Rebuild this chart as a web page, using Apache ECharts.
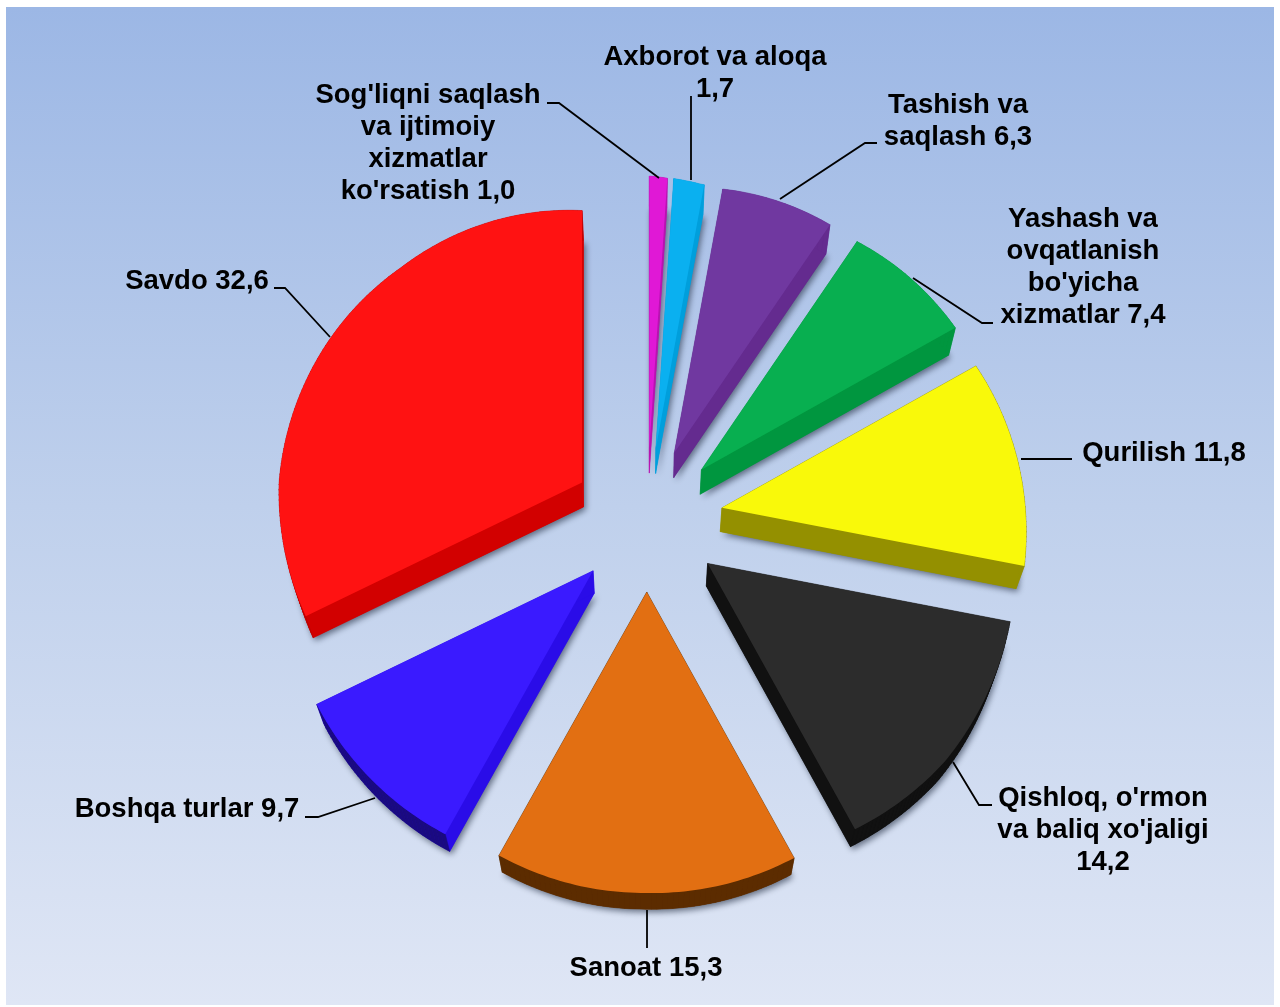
<!DOCTYPE html>
<html lang="uz">
<head>
<meta charset="utf-8">
<title>Savdo ulushi</title>
<script src="https://cdn.jsdelivr.net/npm/echarts@6/dist/echarts.min.js"></script>
<style>
html, body { margin: 0; padding: 0; background: #fff; }
#main { width: 1280px; height: 1007px; }
</style>
</head>
<body>
<div id="main"></div>
<script>
// data, clockwise from 12 o'clock
var names = [
    ["Sog'liqni saqlash", "va ijtimoiy", "xizmatlar", "ko'rsatish {v}"],
    ["Axborot va aloqa", "{v}"],
    ["Tashish va", "saqlash {v}"],
    ["Yashash va", "ovqatlanish", "bo'yicha", "xizmatlar {v}"],
    ["Qurilish {v}"],
    ["Qishloq, o'rmon", "va baliq xo'jaligi", "{v}"],
    ["Sanoat {v}"],
    ["Boshqa turlar {v}"],
    ["Savdo {v}"]
];
var values = [1.0, 1.7, 6.3, 7.4, 11.8, 14.2, 15.3, 9.7, 32.6];

// colours: top face, straight side, curved side
var topColors = ['#E018D6', '#0AB0F0', '#7038A0', '#08AF50', '#F9F90A', '#2C2C2C', '#E26F12', '#3A1AFF', '#FF1212'];
var sideColors = ['#B812B0', '#009FDC', '#642B8F', '#00963F', '#949000', '#111111', '#5C2C00', '#2A0CE8', '#D20000'];
var arcColors = ['#B812B0', '#009FDC', '#642B8F', '#00963F', '#949000', '#111111', '#5C2C00', '#1A0A80', '#C00000'];

// label layout: centre x, first line y
var labelX = [428, 715, 958, 1083, 1164, 1103, 646, 187, 197];
var labelY = [95, 57, 105, 219, 453, 798, 968, 809, 281];
var lineGap = 32.2;
var leaders = [
    [[547, 103], [559, 103], [659, 178]],
    [[691, 96], [691, 180]],
    [[780, 199], [865, 143], [877, 143]],
    [[913, 278], [982, 323], [993, 323]],
    [[1021, 459], [1072, 459]],
    [[953, 762], [979, 805], [992, 805]],
    [[647, 910], [647, 948]],
    [[375, 798], [318, 817], [305, 817]],
    [[330, 337], [285, 288], [274, 288]]
];

// the picture is a tilted 3d pie: angles get warped and radius changes with direction
var trueAngles = [0, 3.6, 9.72, 32.4, 59.04, 101.52, 152.64, 207.72, 242.64, 360];
var shownAngles = [0, 3.8, 10.4, 34.3, 60.8, 100.9, 151, 209.3, 244.2, 360];
var radiusAngles = [0, 10, 34, 61, 101, 130, 151, 180, 209, 244, 270, 300, 320, 360];
var radiusLens = [272, 268, 276, 291, 308, 309, 304, 301, 302, 307, 303, 290, 281, 272];
var centerX = 647, centerY = 520, explodeX = 76, explodeY = 72;

function lookup(xs, ys, x) {
    for (var i = 1; i < xs.length; i++) {
        if (x <= xs[i]) {
            var t = (x - xs[i - 1]) / (xs[i] - xs[i - 1]);
            return ys[i - 1] + (ys[i] - ys[i - 1]) * t;
        }
    }
    return ys[ys.length - 1];
}
// bottom face of a point on the top face, goes towards a vanishing point
function down(p) {
    return [p[0] + (647 - p[0]) * 0.022, p[1] + 30 - (p[1] - 200) * 0.02];
}

var total = values.reduce(function (a, b) { return a + b; }, 0);
var cum = 0;
var seriesData = values.map(function (v) {
    var row = [v, cum];
    cum += v;
    return row;
});

function renderSlice(params, api) {
    var i = params.dataIndex;
    var start = api.value(1) / total * 360;
    var end = (api.value(1) + api.value(0)) / total * 360;
    var mid = (start + end) / 2 * Math.PI / 180;
    var ax = centerX + Math.sin(mid) * explodeX;
    var ay = centerY - Math.cos(mid) * explodeY;
    var apex = [ax, ay];
    var arc = [];
    var steps = Math.max(2, Math.ceil(end - start));
    for (var k = 0; k <= steps; k++) {
        var deg = lookup(trueAngles, shownAngles, start + (end - start) * k / steps);
        var rad = deg * Math.PI / 180;
        var r = lookup(radiusAngles, radiusLens, deg);
        arc.push([ax + Math.sin(rad) * r, ay - Math.cos(rad) * r]);
    }
    var top = [apex].concat(arc);
    var bottom = top.map(down);
    var children = [];

    children.push({
        type: 'polygon',
        shape: { points: bottom },
        style: { fill: sideColors[i], shadowBlur: 6, shadowColor: 'rgba(40,50,70,0.65)', shadowOffsetX: 2, shadowOffsetY: 3 }
    });
    function quad(a, b, color) {
        children.push({
            type: 'polygon',
            shape: { points: [a, b, down(b), down(a)] },
            style: { fill: color, stroke: color, lineWidth: 0.5 }
        });
    }
    quad(apex, arc[0], sideColors[i]);
    quad(apex, arc[arc.length - 1], sideColors[i]);
    for (var q = 0; q < arc.length - 1; q++) {
        quad(arc[q], arc[q + 1], arcColors[i]);
    }
    children.push({
        type: 'polygon',
        shape: { points: top },
        style: { fill: topColors[i] }
    });

    // leader line and label
    children.push({
        type: 'polyline',
        shape: { points: leaders[i] },
        style: { fill: 'none', stroke: '#000', lineWidth: 1.8 }
    });
    var valueText = api.value(0).toFixed(1).replace('.', ',');
    names[i].forEach(function (line, n) {
        children.push({
            type: 'text',
            style: {
                text: line.replace('{v}', valueText),
                x: labelX[i],
                y: labelY[i] + n * lineGap,
                fill: '#000',
                font: 'bold 27.5px "Liberation Sans", Arial, sans-serif',
                align: 'center',
                verticalAlign: 'middle'
            }
        });
    });
    return { type: 'group', children: children };
}

var myChart = echarts.init(document.getElementById('main'), null, { renderer: 'canvas' });
myChart.setOption({
    animation: false,
    backgroundColor: '#fff',
    graphic: [{
        type: 'rect',
        silent: true,
        shape: { x: 6, y: 7, width: 1268, height: 998 },
        style: {
            fill: new echarts.graphic.LinearGradient(0, 0, 0, 1, [
                { offset: 0, color: '#9CB7E5' },
                { offset: 0.5, color: '#BFD0EC' },
                { offset: 1, color: '#DFE6F5' }
            ])
        }
    }],
    series: [{
        type: 'custom',
        coordinateSystem: 'none',
        silent: true,
        renderItem: renderSlice,
        data: seriesData
    }]
});
</script>
</body>
</html>
